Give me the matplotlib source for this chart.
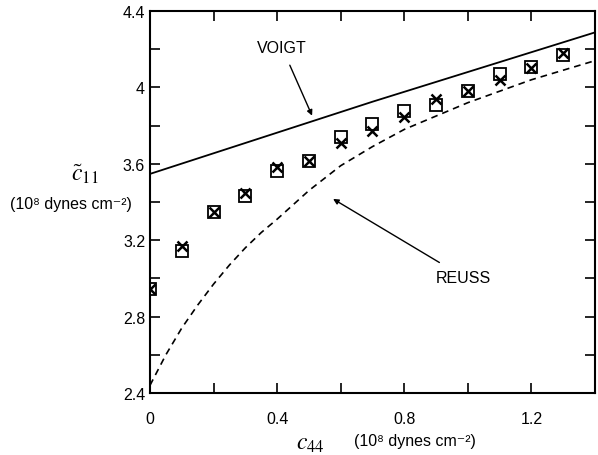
import matplotlib
matplotlib.use("Agg")
import matplotlib.pyplot as plt

plt.rcParams["font.family"] = ["Liberation Sans", "DejaVu Sans"]
plt.rcParams["mathtext.fontset"] = "stix"

# c44 values of the computed points
c44_pts = [0.0, 0.1, 0.2, 0.3, 0.4, 0.5, 0.6, 0.7, 0.8, 0.9, 1.0, 1.1, 1.2, 1.3]
c11_square = [2.945, 3.142, 3.35, 3.43, 3.563, 3.615, 3.742, 3.81, 3.876, 3.908, 3.98, 4.07, 4.105, 4.17]
c11_cross = [2.945, 3.168, 3.35, 3.447, 3.585, 3.615, 3.71, 3.77, 3.843, 3.94, 3.98, 4.04, 4.10, 4.178]

# Voigt bound (straight line)
c44_voigt = [0.0, 0.7, 1.4]
c11_voigt = [3.547, 3.925, 4.288]

# Reuss bound
c44_reuss = [0.0, 0.05, 0.1, 0.15, 0.2, 0.25, 0.3, 0.35, 0.4, 0.5, 0.6, 0.7, 0.8, 0.9, 1.0, 1.1, 1.2, 1.3, 1.4]
c11_reuss = [2.44, 2.60, 2.74, 2.86, 2.97, 3.07, 3.16, 3.24, 3.31, 3.46, 3.59, 3.69, 3.78, 3.85, 3.92, 3.98, 4.04, 4.09, 4.14]

xticks = [0, 0.4, 0.8, 1.2]
xlabels = ["0", "0.4", "0.8", "1.2"]
yticks = [2.4, 2.8, 3.2, 3.6, 4.0, 4.4]
ylabels = ["2.4", "2.8", "3.2", "3.6", "4", "4.4"]

fig = plt.figure(figsize=(5.98, 4.56), dpi=100)
ax = fig.add_axes([0.2508, 0.136, 0.7442, 0.8377])

ax.plot(c44_voigt, c11_voigt, color="black", lw=1.3)
ax.plot(c44_reuss, c11_reuss, color="black", lw=1.2, ls=(0, (4, 3)))
ax.plot(c44_pts, c11_square, ls="none", marker="s", ms=8.5, mfc="none", mec="black", mew=1.3)
ax.plot(c44_pts, c11_cross, ls="none", marker="x", ms=6.5, mec="black", mew=1.8)

ax.set_xlim(0, 1.4)
ax.set_ylim(2.4, 4.4)
ax.set_xticks(xticks)
ax.set_xticklabels(xlabels)
ax.set_yticks(yticks)
ax.set_yticklabels(ylabels)
ax.set_xticks([0.2, 0.6, 1.0], minor=True)
ax.set_yticks([2.6, 3.0, 3.4, 3.8, 4.2], minor=True)
for which in ("major", "minor"):
    ax.tick_params(which=which, direction="in", length=7.2, width=1.2,
                   top=True, right=True)
ax.tick_params(axis="x", which="major", pad=13, labelsize=11.5)
ax.tick_params(axis="y", which="major", pad=3.5, labelsize=11.5)
for sp in ax.spines.values():
    sp.set_linewidth(1.5)

ax.annotate("VOIGT", xy=(0.51, 3.852), xytext=(0.415, 4.21),
            ha="center", va="center", fontsize=11.5,
            arrowprops=dict(arrowstyle="-|>", color="black", lw=1.0,
                            mutation_scale=8, shrinkA=6, shrinkB=0))
ax.annotate("REUSS", xy=(0.576, 3.416), xytext=(0.987, 3.007),
            ha="center", va="center", fontsize=11.5,
            arrowprops=dict(arrowstyle="-|>", color="black", lw=1.0,
                            mutation_scale=8, shrinkA=6, shrinkB=0))

units = "(10\u2078 dynes cm\u207b\u00b2)"
fig.text(85 / 598, 1 - 174 / 456, r"$\tilde{c}_{11}$", ha="center", va="center", fontsize=17)
fig.text(71 / 598, 1 - 204 / 456, units, ha="center", va="center", fontsize=11.5)
fig.text(310 / 598, 1 - 444 / 456, r"$c_{44}$", ha="center", va="center", fontsize=17)
fig.text(415 / 598, 1 - 442 / 456, units, ha="center", va="center", fontsize=11.5)

fig.savefig("out.png", dpi=100)
